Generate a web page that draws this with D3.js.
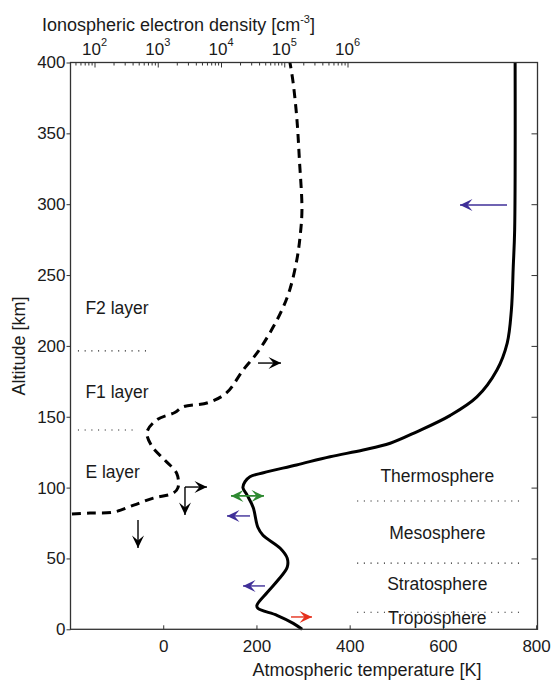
<!DOCTYPE html>
<html>
<head>
<meta charset="utf-8">
<script src="https://cdn.jsdelivr.net/npm/d3@7"></script>
<style>
  html, body { margin: 0; padding: 0; background: #fff; }
  svg { display: block; font-family: "Liberation Sans", Arial, Helvetica, sans-serif; }
</style>
</head>
<body>
<svg id="chart" width="555" height="682"></svg>
<script>
// ---------- data ----------
// Atmospheric temperature profile (K) vs altitude (km)
const tempAlt = [0, 4.2, 9.9, 14.8, 17, 26, 34.6, 43.8, 50.2, 57.2, 66.4, 72, 86, 94.7, 100, 104.2, 107.7, 110.5, 116, 121.8, 126.5, 131.3, 139.4, 151, 164, 183, 202, 225.5, 256, 282, 400];
const tempK   = [298, 279, 244, 203, 201, 223, 246, 266, 266, 251, 214, 203, 193, 180, 171, 175.5, 186, 215, 286, 358, 429, 487, 544, 616, 673, 716, 738, 747, 751, 754, 755];

// Ionospheric electron density (cm^-3) vs altitude (km)
const densAlt = [81.3, 82, 82.7, 87.6, 92.6, 96, 100, 110, 119.5, 129, 139, 148, 153, 157, 160, 167, 183, 195, 209, 225, 240, 261, 277, 296, 331, 360, 386, 400];
const density = [44, 85, 200, 417, 851, 1738, 2089, 1995, 1288, 813, 676, 977, 1862, 2512, 6310, 12300, 22400, 37200, 58900, 91200, 123000, 158500, 177800, 190500, 173800, 158500, 138000, 123000];

// Axis ticks
const tempTicks = [0, 200, 400, 600, 800];
const altTicks = [0, 50, 100, 150, 200, 250, 300, 350, 400];
const densTicks = [1e2, 1e3, 1e4, 1e5, 1e6];
const densExponents = ["2", "3", "4", "5", "6"];

// Layer boundaries (km)
const ionoBoundaryNames = ["F2/F1", "F1/E"];
const ionoBoundaryAlt = [196.5, 140.7];
const ionoLayerNames = ["F2 layer", "F1 layer", "E layer"];
const atmoBoundaryAlt = [90.5, 46.7, 12];
const atmoLayerNames = ["Thermosphere", "Mesosphere", "Stratosphere", "Troposphere"];

// ---------- layout ----------
const M = { left: 70.5, right: 537.5, top: 62.5, bottom: 629.3 };
const textColor = "#1a1a1a";
const axisColor = "#333";

const svg = d3.select("#chart");

const x = d3.scaleLinear().domain([-200, 803]).range([M.left - 0.5, M.right]);
const y = d3.scaleLinear().domain([0, 400]).range([M.bottom, M.top]);
const xLog = d3.scaleLog().domain([1e2, 1e6]).range([94.5, 347.5]);

// ---------- layer boundary dotted lines ----------
const ionoLineT = [[-183, -28], [-183, -54]];
ionoBoundaryAlt.forEach((h, i) => {
  svg.append("line")
    .attr("x1", x(ionoLineT[i][0])).attr("x2", x(ionoLineT[i][1]))
    .attr("y1", y(h)).attr("y2", y(h))
    .attr("stroke", "#222").attr("stroke-width", 1.1)
    .attr("stroke-dasharray", "1.1,5.6");
});
atmoBoundaryAlt.forEach(h => {
  svg.append("line")
    .attr("x1", x(416)).attr("x2", x(772))
    .attr("y1", y(h)).attr("y2", y(h))
    .attr("stroke", "#222").attr("stroke-width", 1.1)
    .attr("stroke-dasharray", "1.1,5.6");
});

// ---------- curves ----------
const tempData = tempK.map((t, i) => ({ t, h: tempAlt[i] }));
const densData = density.map((n, i) => ({ n, h: densAlt[i] }));

svg.append("path")
  .datum(densData)
  .attr("fill", "none")
  .attr("stroke", "#000")
  .attr("stroke-width", 3)
  .attr("stroke-dasharray", "9,6")
  .attr("d", d3.line().x(d => xLog(d.n)).y(d => y(d.h)).curve(d3.curveCatmullRom.alpha(0.5)));

svg.append("path")
  .datum(tempData)
  .attr("fill", "none")
  .attr("stroke", "#000")
  .attr("stroke-width", 3)
  .attr("stroke-linejoin", "round")
  .attr("d", d3.line().x(d => x(d.t)).y(d => y(d.h)).curve(d3.curveCatmullRom.alpha(0.5)));

// ---------- arrows ----------
function arrowHead(g, x1, y1, x2, y2, color) {
  const ang = Math.atan2(y2 - y1, x2 - x1);
  const L = 12.5, Wd = 6, notch = 7.5;
  const c = Math.cos(ang), s = Math.sin(ang);
  const p = (a, b) => [x2 - a * c - b * s, y2 - a * s + b * c];
  const pts = [[x2, y2], p(L, Wd), p(notch, 0), p(L, -Wd)];
  g.append("path").attr("d", "M" + pts.map(q => q.join(",")).join("L") + "Z").attr("fill", color);
}
function arrow(t1, h1, t2, h2, color, both, sw) {
  const g = svg.append("g");
  const X1 = x(t1), Y1 = y(h1), X2 = x(t2), Y2 = y(h2);
  g.append("line").attr("x1", X1).attr("y1", Y1).attr("x2", X2).attr("y2", Y2)
    .attr("stroke", color).attr("stroke-width", sw || 1.4);
  arrowHead(g, X1, Y1, X2, Y2, color);
  if (both) arrowHead(g, X2, Y2, X1, Y1, color);
}
const purple = "#3f2f98", green = "#2f8a32", red = "#e5301c";
arrow(737.6, 299.4, 636.7, 299.4, purple);
arrow(203.4, 187.9, 252.7, 187.9, "#000");
arrow(46.7, 100.4, 93.9, 100.4, "#000");
arrow(46.7, 100.4, 46.7, 80.7, "#000");
arrow(-54.1, 77.1, -54.1, 57.4, "#000");
arrow(145.4, 94.1, 216.2, 94.1, green, true, 1.8);
arrow(186.2, 80, 136.8, 80, purple);
arrow(218.4, 30.6, 171.2, 30.6, purple);
arrow(274.2, 8.7, 319.2, 8.7, red);

// ---------- frame ----------
svg.append("rect")
  .attr("x", M.left).attr("y", M.top)
  .attr("width", M.right - M.left).attr("height", M.bottom - M.top)
  .attr("fill", "none").attr("stroke", axisColor).attr("stroke-width", 1.3);

// ---------- axes ----------
function styleAxis(g) {
  g.select(".domain").remove();
  g.selectAll(".tick line").attr("stroke", axisColor).attr("stroke-width", 1);
  g.selectAll(".tick text").attr("fill", textColor).attr("font-size", 17)
    .attr("font-family", '"Liberation Sans", Arial, sans-serif');
}

// left axis (ticks outward)
svg.append("g").attr("transform", `translate(${M.left},0)`)
  .call(d3.axisLeft(y).tickValues(altTicks).tickSize(4).tickPadding(1).tickFormat(d3.format("d")))
  .call(styleAxis);

// right ticks (inward)
svg.append("g").attr("transform", `translate(${M.right},0)`)
  .call(d3.axisLeft(y).tickValues(altTicks.slice(1, -1)).tickSize(6).tickFormat(""))
  .call(styleAxis);

// bottom axis (ticks inward)
svg.append("g").attr("transform", `translate(0,${M.bottom})`)
  .call(d3.axisBottom(x).tickValues(tempTicks).tickSize(-4).tickPadding(11).tickFormat(d3.format("d")))
  .call(styleAxis);

// top log axis (ticks inward)
const minorVals = [];
for (let k = 1; k <= 5; k++) for (let m = 2; m <= 9; m++) {
  const v = m * Math.pow(10, k);
  if (xLog(v) >= M.left + 1 && v < 1e6) minorVals.push(v);
}
svg.append("g").attr("transform", `translate(0,${M.top})`)
  .call(d3.axisTop(xLog).tickValues(minorVals).tickSize(-3).tickFormat(""))
  .call(styleAxis);
svg.append("g").attr("transform", `translate(0,${M.top})`)
  .call(d3.axisTop(xLog).tickValues(densTicks).tickSize(-5).tickFormat(""))
  .call(styleAxis);

densTicks.forEach((v, i) => {
  const t = svg.append("text")
    .attr("x", xLog(v)).attr("y", 55)
    .attr("text-anchor", "middle")
    .attr("fill", textColor).attr("font-size", 17);
  t.append("tspan").text("10");
  t.append("tspan").attr("dy", -9).attr("font-size", 11).text(densExponents[i]);
});

// ---------- axis titles ----------
const title = svg.append("text")
  .attr("x", 42).attr("y", 31)
  .attr("fill", textColor).attr("font-size", 18);
title.append("tspan").text("Ionospheric electron density [cm");
title.append("tspan").attr("dy", -8).attr("font-size", 11).text("-3");
title.append("tspan").attr("dy", 8).text("]");

svg.append("text")
  .attr("x", 367).attr("y", 676)
  .attr("text-anchor", "middle")
  .attr("fill", textColor).attr("font-size", 18)
  .text("Atmospheric temperature [K]");

svg.append("text")
  .attr("transform", "translate(25,346) rotate(-90)")
  .attr("text-anchor", "middle")
  .attr("fill", textColor).attr("font-size", 18)
  .text("Altitude [km]");

// ---------- region labels ----------
const ionoLabelAlt = [222.6, 163, 106.7];
ionoLayerNames.forEach((name, i) => {
  svg.append("text")
    .attr("x", x(-167)).attr("y", y(ionoLabelAlt[i]))
    .attr("fill", textColor).attr("font-size", 17.5)
    .text(name);
});
const atmoLabelAlt = [104, 63.8, 27.8, 3.8];
atmoLayerNames.forEach((name, i) => {
  svg.append("text")
    .attr("x", x(588)).attr("y", y(atmoLabelAlt[i]))
    .attr("text-anchor", "middle")
    .attr("fill", textColor).attr("font-size", 17.5)
    .text(name);
});
</script>
</body>
</html>
